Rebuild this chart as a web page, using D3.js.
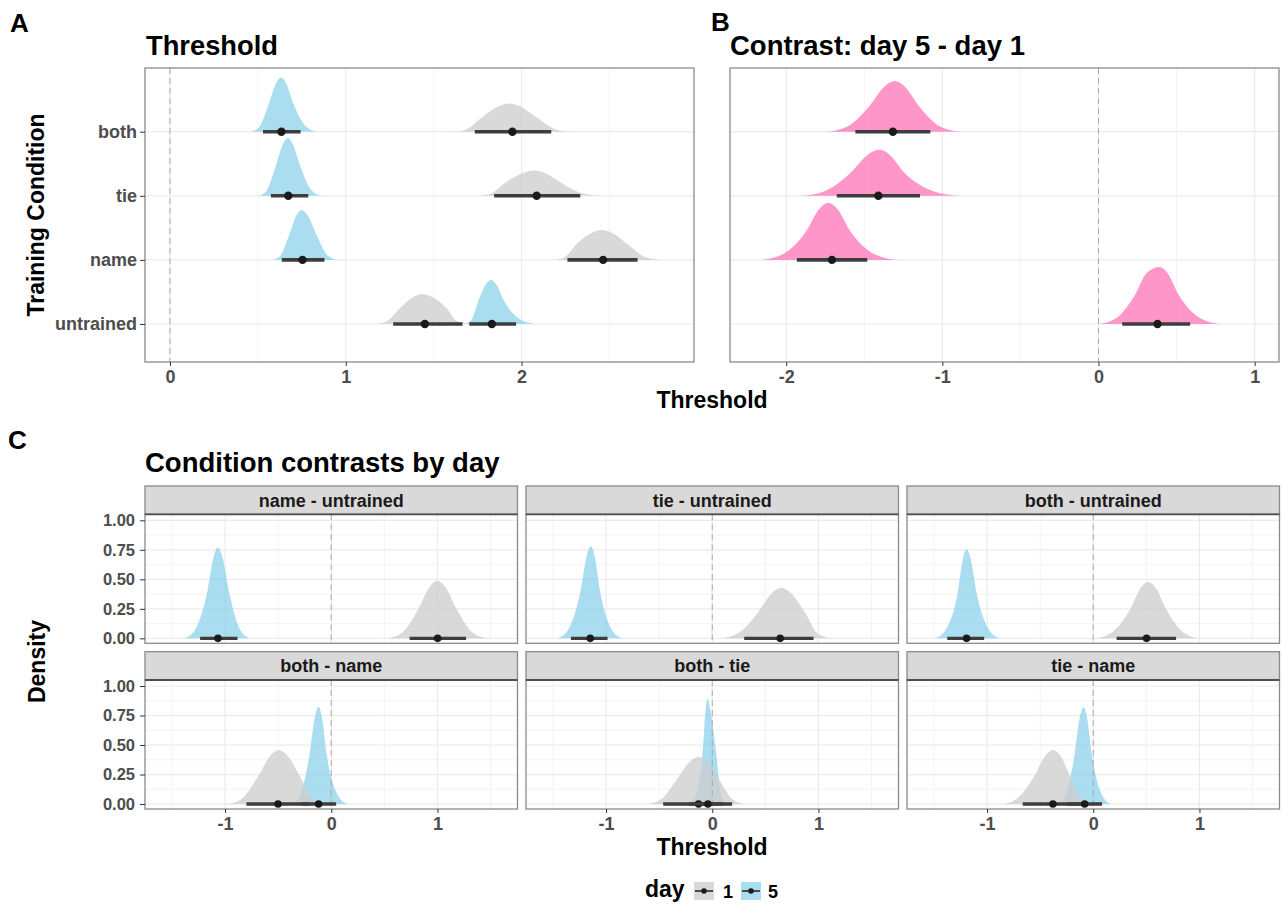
<!DOCTYPE html>
<html><head><meta charset="utf-8">
<script src="https://cdn.jsdelivr.net/npm/d3@7"></script>
<style>
html,body{margin:0;padding:0;background:#fff;}
svg{display:block;font-family:"Liberation Sans",Arial,Helvetica,sans-serif;}
</style></head><body>
<svg id="chart" width="1282" height="904"></svg>
<script>
// ================= DATA =================
const conditions = ["both", "tie", "name", "untrained"];
const dayLabels = ["1", "5"];
// each slab outline: x positions (left to right) where the density reaches these fractions of its peak
const slabLevels = [0, 0.1, 0.5, 0.9, 1, 0.9, 0.5, 0.1, 0];

// ---- Panel A: threshold by training condition (order as in conditions) ----
const thrDay1Slab = [
  [1.617, 1.692, 1.773, 1.870, 1.930, 1.990, 2.086, 2.187, 2.280],
  [1.760, 1.829, 1.904, 2.007, 2.073, 2.133, 2.229, 2.344, 2.451],
  [2.190, 2.247, 2.308, 2.398, 2.456, 2.516, 2.608, 2.702, 2.790],
  [1.173, 1.236, 1.304, 1.384, 1.434, 1.491, 1.578, 1.632, 1.720]
];
const thrDay1Peak = [0.44, 0.395, 0.467, 0.467];
const thrDay1Median = [1.948, 2.086, 2.464, 1.450];
const thrDay1Low = [1.734, 1.844, 2.261, 1.270];
const thrDay1High = [2.169, 2.334, 2.660, 1.664];

const thrDay5Slab = [
  [0.464, 0.511, 0.561, 0.604, 0.631, 0.660, 0.704, 0.772, 0.834],
  [0.508, 0.552, 0.600, 0.643, 0.670, 0.698, 0.743, 0.804, 0.860],
  [0.587, 0.631, 0.678, 0.721, 0.748, 0.782, 0.834, 0.895, 0.952],
  [1.682, 1.716, 1.752, 1.797, 1.825, 1.856, 1.904, 1.992, 2.073]
];
const thrDay5Peak = [0.846, 0.90, 0.78, 0.685];
const thrDay5Median = [0.634, 0.673, 0.754, 1.831];
const thrDay5Low = [0.529, 0.574, 0.636, 1.703];
const thrDay5High = [0.743, 0.787, 0.879, 1.969];

// ---- Panel B: contrast day 5 - day 1 ----
const diffSlab = [
  [-1.742, -1.611, -1.469, -1.368, -1.303, -1.243, -1.148, -1.012, -0.887],
  [-1.909, -1.754, -1.588, -1.475, -1.402, -1.340, -1.243, -1.058, -0.887],
  [-2.158, -2.022, -1.873, -1.786, -1.730, -1.675, -1.588, -1.434, -1.291],
  [0.005, 0.113, 0.231, 0.310, 0.392, 0.440, 0.516, 0.652, 0.777]
];
const diffPeak = [0.79, 0.717, 0.89, 0.89];
const diffMedian = [-1.317, -1.410, -1.707, 0.378];
const diffLow = [-1.557, -1.676, -1.932, 0.152];
const diffHigh = [-1.077, -1.143, -1.481, 0.587];

// ---- Panel C: condition contrasts by day ----
const contrastNames = ["name - untrained", "tie - untrained", "both - untrained",
                       "both - name", "both - tie", "tie - name"];
const conDay1Slab = [
  [0.532, 0.669, 0.818, 0.928, 0.998, 1.071, 1.182, 1.331, 1.468],
  [0.075, 0.244, 0.427, 0.563, 0.650, 0.738, 0.876, 0.990, 1.120],
  [0.015, 0.173, 0.344, 0.450, 0.517, 0.585, 0.691, 0.852, 1.000],
  [-0.979, -0.842, -0.692, -0.571, -0.493, -0.415, -0.291, -0.180, -0.060],
  [-0.600, -0.480, -0.340, -0.210, -0.129, -0.050, 0.070, 0.190, 0.300],
  [-0.850, -0.720, -0.560, -0.450, -0.382, -0.310, -0.215, -0.110, -0.010]
];
const conDay1Peak = [0.487, 0.428, 0.479, 0.458, 0.40, 0.458];
const conDay1Median = [1.002, 0.640, 0.502, -0.501, -0.129, -0.380];
const conDay1Low = [0.738, 0.301, 0.220, -0.799, -0.462, -0.664];
const conDay1High = [1.270, 0.954, 0.780, -0.206, 0.187, -0.081];

const conDay5Slab = [
  [-1.380, -1.279, -1.170, -1.107, -1.067, -1.026, -0.960, -0.861, -0.769],
  [-1.457, -1.354, -1.243, -1.182, -1.143, -1.109, -1.055, -0.949, -0.851],
  [-1.490, -1.388, -1.278, -1.226, -1.193, -1.156, -1.097, -0.984, -0.880],
  [-0.367, -0.291, -0.206, -0.153, -0.119, -0.089, -0.042, 0.057, 0.149],
  [-0.220, -0.150, -0.090, -0.062, -0.044, -0.020, 0.035, 0.080, 0.130],
  [-0.332, -0.258, -0.178, -0.126, -0.090, -0.060, -0.012, 0.080, 0.160]
];
const conDay5Peak = [0.769, 0.78, 0.755, 0.825, 0.895, 0.82];
const conDay5Median = [-1.067, -1.149, -1.193, -0.119, -0.041, -0.081];
const conDay5Low = [-1.235, -1.331, -1.375, -0.279, -0.220, -0.245];
const conDay5High = [-0.883, -0.986, -1.027, 0.046, 0.100, 0.083];

const densityTicks = [0, 0.25, 0.5, 0.75, 1];
const densityMinor = [0.125, 0.375, 0.625, 0.875];

// ================= STYLE =================
const FILL_DAY1 = "rgba(204,204,204,0.75)";
const FILL_DAY5 = "rgba(135,206,235,0.7)";
const FILL_DIFF = "rgba(255,105,180,0.7)";
const KEY_DAY1 = "#D9D9D9", KEY_DAY5 = "#ABDDF1";
const INTERVAL = "#3d3d3d", POINT = "#1a1a1a";
const GRID = "#EBEBEB", GRID_MINOR = "#F3F3F3", BORDER = "#8a8a8a";
const TICK_TXT = "#4D4D4D";

const svg = d3.select("#chart");

function slabPath(xs, peak, x, yFn) {
  const pts = xs.map((v, i) => [v, slabLevels[i] * peak]);
  return d3.area().x(d => x(d[0])).y0(d => yFn(0)).y1(d => yFn(d[1]))
    .curve(d3.curveMonotoneX)(pts);
}
function drawInterval(g, x, yPix, lo, hi, med, w, r) {
  g.append("line").attr("x1", x(lo)).attr("x2", x(hi)).attr("y1", yPix).attr("y2", yPix)
    .attr("stroke", INTERVAL).attr("stroke-width", w);
  g.append("circle").attr("cx", x(med)).attr("cy", yPix).attr("r", r).attr("fill", POINT);
}
function styleAxis(sel, size) {
  sel.select(".domain").remove();
  sel.selectAll(".tick line").attr("stroke", "#333").attr("stroke-width", 1);
  sel.selectAll(".tick text").attr("fill", TICK_TXT).attr("font-size", size)
    .attr("font-weight", "bold").attr("font-family", '"Liberation Sans",Arial,sans-serif');
}
function txt(x, y, s, size, opts = {}) {
  const t = svg.append("text").attr("x", x).attr("y", y).text(s)
    .attr("font-size", size).attr("font-weight", "bold")
    .attr("fill", opts.fill || "#000").attr("text-anchor", opts.anchor || "start");
  if (opts.rotate) t.attr("transform", `rotate(-90,${x},${y})`);
  return t;
}

// ================= PANEL A =================
{
  const L = 145, R = 694, T = 68, B = 362;
  const x = d3.scaleLinear().domain([-0.142, 2.981]).range([L, R]);
  const y = d3.scalePoint().domain(conditions).range([131.7, 324]);
  const h = d3.scaleLinear().domain([0, 1]).range([0, y.step()]);
  const g = svg.append("g");
  g.append("rect").attr("x", L).attr("y", T).attr("width", R - L).attr("height", B - T).attr("fill", "#fff");
  [0.5, 1.5, 2.5].forEach(v => g.append("line").attr("x1", x(v)).attr("x2", x(v)).attr("y1", T).attr("y2", B)
    .attr("stroke", GRID_MINOR).attr("stroke-width", 1));
  [0, 1, 2].forEach(v => g.append("line").attr("x1", x(v)).attr("x2", x(v)).attr("y1", T).attr("y2", B)
    .attr("stroke", GRID).attr("stroke-width", 1.2));
  conditions.forEach(c => g.append("line").attr("x1", L).attr("x2", R).attr("y1", y(c)).attr("y2", y(c))
    .attr("stroke", GRID).attr("stroke-width", 1.2));
  g.append("line").attr("x1", x(0)).attr("x2", x(0)).attr("y1", T).attr("y2", B)
    .attr("stroke", "#aaaaaa").attr("stroke-dasharray", "6,4");
  conditions.forEach((c, i) => {
    const yFn = d => y(c) - h(d);
    g.append("path").attr("d", slabPath(thrDay5Slab[i], thrDay5Peak[i], x, yFn)).attr("fill", FILL_DAY5);
    g.append("path").attr("d", slabPath(thrDay1Slab[i], thrDay1Peak[i], x, yFn)).attr("fill", FILL_DAY1);
  });
  conditions.forEach((c, i) => {
    drawInterval(g, x, y(c), thrDay1Low[i], thrDay1High[i], thrDay1Median[i], 3.6, 4.2);
    drawInterval(g, x, y(c), thrDay5Low[i], thrDay5High[i], thrDay5Median[i], 3.6, 4.2);
  });
  g.append("rect").attr("x", L).attr("y", T).attr("width", R - L).attr("height", B - T)
    .attr("fill", "none").attr("stroke", BORDER).attr("stroke-width", 1.3);
  const ax = g.append("g").attr("transform", `translate(0,${B})`)
    .call(d3.axisBottom(x).tickValues([0, 1, 2]).tickFormat(d => String(d)).tickSize(4).tickPadding(4));
  styleAxis(ax, 18);
  const ay = g.append("g").attr("transform", `translate(${L},0)`)
    .call(d3.axisLeft(y).tickSize(5).tickPadding(3));
  styleAxis(ay, 18);
}

// ================= PANEL B =================
{
  const L = 730, R = 1279, T = 68, B = 362;
  const x = d3.scaleLinear().domain([-2.36, 1.156]).range([L, R]);
  const y = d3.scalePoint().domain(conditions).range([131.7, 324]);
  const h = d3.scaleLinear().domain([0, 1]).range([0, y.step()]);
  const g = svg.append("g");
  [-1.5, -0.5, 0.5].forEach(v => g.append("line").attr("x1", x(v)).attr("x2", x(v)).attr("y1", T).attr("y2", B)
    .attr("stroke", GRID_MINOR).attr("stroke-width", 1));
  [-2, -1, 0, 1].forEach(v => g.append("line").attr("x1", x(v)).attr("x2", x(v)).attr("y1", T).attr("y2", B)
    .attr("stroke", GRID).attr("stroke-width", 1.2));
  conditions.forEach(c => g.append("line").attr("x1", L).attr("x2", R).attr("y1", y(c)).attr("y2", y(c))
    .attr("stroke", GRID).attr("stroke-width", 1.2));
  g.append("line").attr("x1", x(0)).attr("x2", x(0)).attr("y1", T).attr("y2", B)
    .attr("stroke", "#aaaaaa").attr("stroke-dasharray", "6,4");
  conditions.forEach((c, i) => {
    const yFn = d => y(c) - h(d);
    g.append("path").attr("d", slabPath(diffSlab[i], diffPeak[i], x, yFn)).attr("fill", FILL_DIFF);
  });
  conditions.forEach((c, i) => drawInterval(g, x, y(c), diffLow[i], diffHigh[i], diffMedian[i], 3.6, 4.2));
  g.append("rect").attr("x", L).attr("y", T).attr("width", R - L).attr("height", B - T)
    .attr("fill", "none").attr("stroke", BORDER).attr("stroke-width", 1.3);
  const ax = g.append("g").attr("transform", `translate(0,${B})`)
    .call(d3.axisBottom(x).tickValues([-2, -1, 0, 1]).tickFormat(d => String(d)).tickSize(4).tickPadding(4));
  styleAxis(ax, 18);
}

// shared titles of top row
txt(10, 31.7, "A", 26);
txt(711, 31, "B", 26);
txt(146, 55, "Threshold", 27.3);
txt(730, 55, "Contrast: day 5 - day 1", 27.5);
txt(712, 408, "Threshold", 23, { anchor: "middle" });
txt(44, 215, "Training Condition", 23, { anchor: "middle", rotate: true });

// ================= PANEL C =================
{
  const colL = [145, 526, 907], W = 372.5;
  const stripT = [486, 651.7], stripH = 28.3, panH = 129;
  contrastNames.forEach((name, i) => {
    const col = i % 3, row = Math.floor(i / 3);
    const L = colL[col], R = L + W;
    const T = stripT[row] + stripH, B = T + panH;
    const x = d3.scaleLinear().domain([-1.754, 1.754]).range([L, R]);
    const y = d3.scaleLinear().domain([-0.042, 1.051]).range([B, T]);
    const g = svg.append("g");
    [-1.5, -0.5, 0.5, 1.5].forEach(v => g.append("line").attr("x1", x(v)).attr("x2", x(v)).attr("y1", T).attr("y2", B)
      .attr("stroke", GRID_MINOR).attr("stroke-width", 1));
    densityMinor.forEach(v => g.append("line").attr("x1", L).attr("x2", R).attr("y1", y(v)).attr("y2", y(v))
      .attr("stroke", GRID_MINOR).attr("stroke-width", 1));
    [-1, 0, 1].forEach(v => g.append("line").attr("x1", x(v)).attr("x2", x(v)).attr("y1", T).attr("y2", B)
      .attr("stroke", GRID).attr("stroke-width", 1.2));
    densityTicks.forEach(v => g.append("line").attr("x1", L).attr("x2", R).attr("y1", y(v)).attr("y2", y(v))
      .attr("stroke", GRID).attr("stroke-width", 1.2));
    g.append("path").attr("d", slabPath(conDay5Slab[i], conDay5Peak[i], x, y)).attr("fill", FILL_DAY5);
    g.append("path").attr("d", slabPath(conDay1Slab[i], conDay1Peak[i], x, y)).attr("fill", FILL_DAY1);
    g.append("line").attr("x1", x(0)).attr("x2", x(0)).attr("y1", T).attr("y2", B)
      .attr("stroke", "#aaaaaa").attr("stroke-dasharray", "6,4");
    drawInterval(g, x, y(0), conDay1Low[i], conDay1High[i], conDay1Median[i], 3.4, 3.8);
    drawInterval(g, x, y(0), conDay5Low[i], conDay5High[i], conDay5Median[i], 3.4, 3.8);
    g.append("rect").attr("x", L).attr("y", T).attr("width", W).attr("height", panH)
      .attr("fill", "none").attr("stroke", BORDER).attr("stroke-width", 1.3);
    // strip
    g.append("rect").attr("x", L).attr("y", stripT[row]).attr("width", W).attr("height", stripH)
      .attr("fill", "#D9D9D9").attr("stroke", BORDER).attr("stroke-width", 1.3);
    g.append("line").attr("x1", L).attr("x2", R).attr("y1", T).attr("y2", T)
      .attr("stroke", "#4d4d4d").attr("stroke-width", 1.8);
    g.append("text").attr("x", (L + R) / 2).attr("y", stripT[row] + stripH / 2 + 6.5)
      .attr("text-anchor", "middle").attr("font-size", 18).attr("font-weight", "bold")
      .attr("fill", "#1A1A1A").text(name);
    if (col === 0) {
      const ay = g.append("g").attr("transform", `translate(${L},0)`)
        .call(d3.axisLeft(y).tickValues(densityTicks).tickFormat(d3.format(".2f")).tickSize(5).tickPadding(5));
      styleAxis(ay, 16.5);
    }
    if (row === 1) {
      const ax = g.append("g").attr("transform", `translate(0,${B})`)
        .call(d3.axisBottom(x).tickValues([-1, 0, 1]).tickFormat(d => String(d)).tickSize(4).tickPadding(4));
      styleAxis(ax, 18);
    }
  });
}
txt(8, 449, "C", 26);
txt(145, 472, "Condition contrasts by day", 27.5);
txt(712, 855, "Threshold", 23, { anchor: "middle" });
txt(45, 661.5, "Density", 23, { anchor: "middle", rotate: true });

// ================= LEGEND =================
{
  const g = svg.append("g");
  g.append("text").attr("x", 645).attr("y", 897).attr("font-size", 23).attr("font-weight", "bold").text("day");
  const keyX = [694, 741], labX = [723, 768], keyFill = [KEY_DAY1, KEY_DAY5];
  dayLabels.forEach((d, i) => {
    g.append("rect").attr("x", keyX[i]).attr("y", 882).attr("width", 20).attr("height", 18).attr("fill", keyFill[i]);
    g.append("line").attr("x1", keyX[i] + 1).attr("x2", keyX[i] + 19).attr("y1", 891).attr("y2", 891)
      .attr("stroke", INTERVAL).attr("stroke-width", 1.8);
    g.append("circle").attr("cx", keyX[i] + 10).attr("cy", 891).attr("r", 2.8).attr("fill", POINT);
    g.append("text").attr("x", labX[i]).attr("y", 897.5).attr("font-size", 18).attr("font-weight", "bold").text(d);
  });
}
</script>
</body></html>
